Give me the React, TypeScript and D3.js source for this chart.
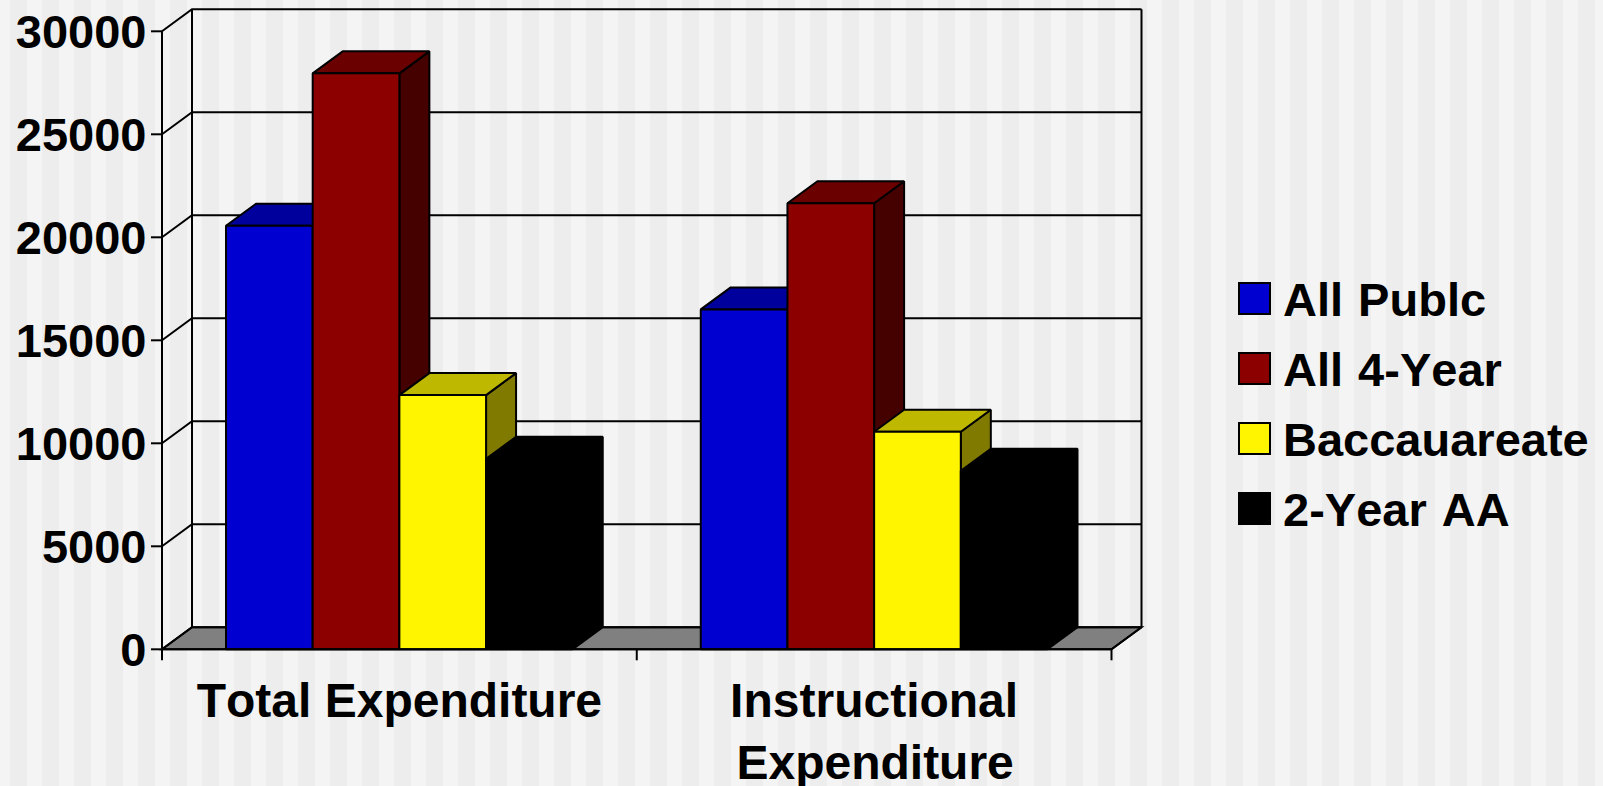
import React from "react";
import * as d3 from "d3";

const categories = ["Total Expenditure", "Instructional Expenditure"];
const seriesNames = ["All Publc", "All 4-Year", "Baccauareate", "2-Year AA"];
const allPublic = [20560, 16500];
const all4Year = [27960, 21650];
const baccalaureate = [12340, 10560];
const twoYear = [9250, 8670];
const seriesValues = [allPublic, all4Year, baccalaureate, twoYear];
const yTicks = [0, 5000, 10000, 15000, 20000, 25000, 30000];

const frontColors = ["#0000d0", "#8c0000", "#fff500", "#000000"];
const topColors = ["#00009c", "#6a0000", "#bfb800", "#000000"];
const sideColors = ["#000068", "#450000", "#807b00", "#000000"];

const WIDTH = 1603;
const HEIGHT = 786;
const DEPTH_X = 30;
const DEPTH_Y = -22;
const FONT = "'Liberation Sans', Arial, sans-serif";

const xLeft = 162;
const xRight = 1111.5;
const yBase = 649.3;
const yTop = 31.3;
const groupPad = 64;

const y = d3.scaleLinear().domain([0, 30000]).range([yBase, yTop]);
const x = d3.scaleBand<string>().domain(categories).range([xLeft, xRight]);

const poly = (pts: [number, number][]) => pts.map((p) => p.join(",")).join(" ");

const wrapped = (label: string) => (label.length > 18 ? label.split(" ") : [label]);

export default function App() {
  const backRight = xRight + DEPTH_X;
  const backLeft = xLeft + DEPTH_X;
  const line = { stroke: "#000", strokeWidth: 2, fill: "none" };

  return (
    <svg
      width={WIDTH}
      height={HEIGHT}
      viewBox={`0 0 ${WIDTH} ${HEIGHT}`}
      style={{ position: "absolute", left: 0, top: 0, display: "block", fontKerning: "none" }}
    >
      <defs>
        <pattern id="stripes" x={10} y={0} width={32} height={HEIGHT} patternUnits="userSpaceOnUse">
          <rect x={0} y={0} width={32} height={HEIGHT} fill="#f4f4f4" />
          <rect x={0} y={0} width={17} height={HEIGHT} fill="#ededed" />
        </pattern>
      </defs>
      <rect x={0} y={0} width={WIDTH} height={HEIGHT} fill="url(#stripes)" />

      {/* floor */}
      <polygon
        points={poly([
          [xLeft, yBase],
          [backLeft, yBase + DEPTH_Y],
          [backRight, yBase + DEPTH_Y],
          [xRight, yBase],
        ])}
        fill="#808080"
        stroke="#000"
        strokeWidth={2}
      />

      {/* walls and gridlines */}
      <line x1={xLeft} x2={xLeft} y1={yTop} y2={yBase} {...line} />
      <line x1={backLeft} x2={backLeft} y1={yTop + DEPTH_Y} y2={yBase + DEPTH_Y} {...line} />
      <line x1={backRight} x2={backRight} y1={yTop + DEPTH_Y} y2={yBase + DEPTH_Y} {...line} />
      {yTicks.map((t) => (
        <g key={t}>
          <polyline
            points={poly([
              [xLeft, y(t)],
              [backLeft, y(t) + DEPTH_Y],
              [backRight, y(t) + DEPTH_Y],
            ])}
            {...line}
          />
          <line x1={xLeft - 11} x2={xLeft} y1={y(t)} y2={y(t)} {...line} />
          <text
            x={146.5}
            y={y(t) + 16.5}
            textAnchor="end"
            fontFamily={FONT}
            fontWeight="bold"
            fontSize={47}
            fill="#000"
          >
            {t}
          </text>
        </g>
      ))}

      {/* bars, painted left to right so nearer faces overlap */}
      {categories.map((c, ci) => {
        const x0 = x(c) as number;
        const inner = d3
          .scaleBand<number>()
          .domain(d3.range(seriesNames.length))
          .range([x0 + groupPad, x0 + x.bandwidth() - groupPad]);
        return seriesValues.map((vals, si) => {
          const l = inner(si) as number;
          const r = l + inner.bandwidth();
          const t = y(vals[ci]);
          return (
            <g key={`${c}-${si}`} stroke="#000" strokeWidth={2} strokeLinejoin="bevel">
              <polygon
                points={poly([
                  [r, yBase],
                  [r + DEPTH_X, yBase + DEPTH_Y],
                  [r + DEPTH_X, t + DEPTH_Y],
                  [r, t],
                ])}
                fill={sideColors[si]}
              />
              <polygon
                points={poly([
                  [l, t],
                  [l + DEPTH_X, t + DEPTH_Y],
                  [r + DEPTH_X, t + DEPTH_Y],
                  [r, t],
                ])}
                fill={topColors[si]}
              />
              <rect x={l} y={t} width={r - l} height={yBase - t} fill={frontColors[si]} />
            </g>
          );
        });
      })}

      {/* front edge and category ticks */}
      <line x1={xLeft} x2={xRight} y1={yBase} y2={yBase} {...line} />
      <line x1={xRight} x2={backRight} y1={yBase} y2={yBase + DEPTH_Y} {...line} />
      {[xLeft, (x(categories[1]) as number), xRight].map((tx) => (
        <line key={tx} x1={tx} x2={tx} y1={yBase} y2={yBase + 11} {...line} />
      ))}
      {categories.map((c) => (
        <text
          key={c}
          textAnchor="middle"
          fontFamily={FONT}
          fontWeight="bold"
          fontSize={48}
          fill="#000"
        >
          {wrapped(c).map((part, i) => (
            <tspan key={part} x={(x(c) as number) + x.bandwidth() / 2 + i} y={716.7 + i * 62.3}>
              {part}
            </tspan>
          ))}
        </text>
      ))}

      {/* legend */}
      {seriesNames.map((name, i) => (
        <g key={name} transform={`translate(0, ${i * 70})`}>
          <rect x={1239} y={283} width={31} height={31} fill={frontColors[i]} stroke="#000" strokeWidth={2} />
          <text
            x={1283}
            y={315.5}
            fontFamily={FONT}
            fontWeight="bold"
            fontSize={47}
            wordSpacing={2}
            fill="#000"
          >
            {name}
          </text>
        </g>
      ))}
    </svg>
  );
}
